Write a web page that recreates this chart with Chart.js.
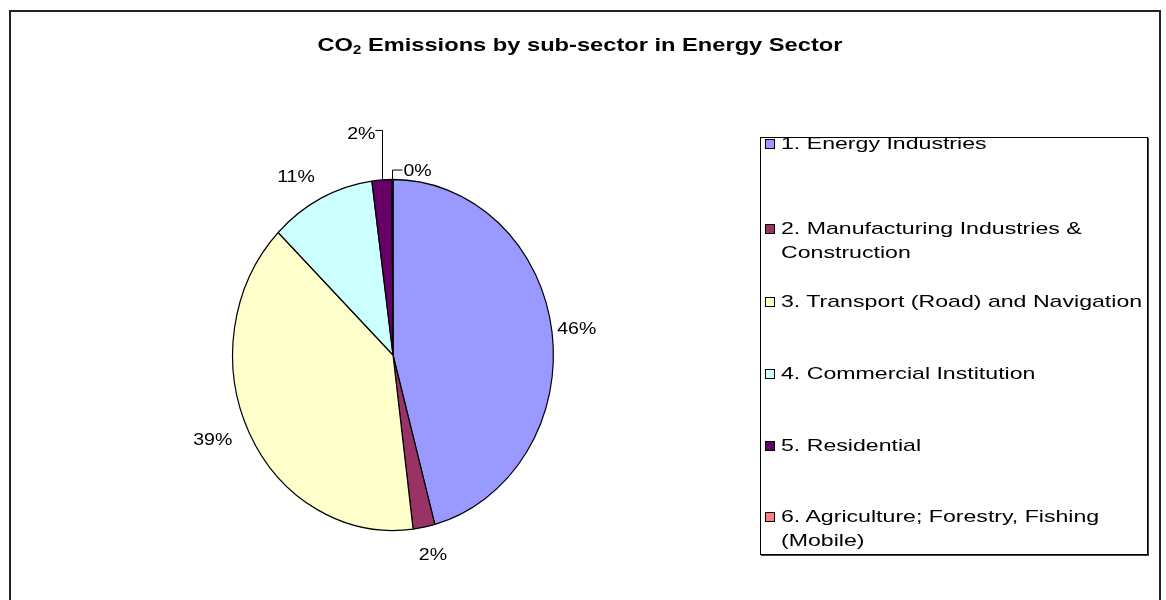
<!DOCTYPE html>
<html>
<head>
<meta charset="utf-8">
<script src="https://cdn.jsdelivr.net/npm/chart.js@4.4.0/dist/chart.umd.min.js"></script>
<style>
  html, body { margin:0; padding:0; background:#fff; }
  body { width:1166px; height:600px; position:relative; overflow:hidden; font-family:"Liberation Sans", Arial, sans-serif; }
  #frame { position:absolute; left:9px; top:10px; width:1152px; height:600px; border:2px solid #222; box-sizing:border-box; }
  #wrap { position:absolute; left:0; top:0; width:1166px; height:600px; }
  #title { position:absolute; left:580px; top:34px; font-weight:bold; font-size:19px; color:#000; white-space:nowrap; transform:translateX(-50%) scaleX(1.245); }
  #title sub { font-size:12px; vertical-align:-3px; line-height:0; }
  #legend { position:absolute; left:760px; top:137px; width:388px; height:418px; border:1px solid #000; box-shadow:1px 1px 0 #444; box-sizing:border-box; }
  .li { position:absolute; left:4px; font-size:17px; line-height:24px; color:#000; }
  .sw { position:absolute; left:0; top:7px; width:8px; height:8px; border:1px solid #000; }
  .tx { position:absolute; left:16px; top:0; white-space:nowrap; transform:scaleX(1.36); transform-origin:0 0; }
</style>
</head>
<body>
<div id="frame"></div>
<div id="wrap"><canvas id="c" width="1166" height="600"></canvas></div>
<div id="title">CO<sub>2</sub> Emissions by sub-sector in Energy Sector</div>
<div id="legend"></div>
<script>
const categories = [
  "1. Energy Industries",
  "2. Manufacturing Industries & Construction",
  "3. Transport (Road) and Navigation",
  "4. Commercial Institution",
  "5. Residential",
  "6. Agriculture; Forestry, Fishing (Mobile)"
];
const legendLines = [
  ["1. Energy Industries"],
  ["2. Manufacturing Industries &", "Construction"],
  ["3. Transport (Road) and Navigation"],
  ["4. Commercial Institution"],
  ["5. Residential"],
  ["6. Agriculture; Forestry, Fishing", "(Mobile)"]
];
const shares = [45.8, 2.2, 39.3, 10.6, 2.0, 0.1];
const pctLabels = ["46%", "2%", "39%", "11%", "2%", "0%"];
const colors = ["#9999FF", "#993366", "#FFFFCC", "#CCFFFF", "#660066", "#FF8080"];

// legend (HTML, built from arrays)
const lg = document.getElementById('legend');
const itemY = [-6, 79, 152, 224, 296, 367];
legendLines.forEach((lines, i) => {
  const d = document.createElement('div');
  d.className = 'li';
  d.style.top = itemY[i] + 'px';
  const sw = document.createElement('div');
  sw.className = 'sw';
  sw.style.background = colors[i];
  d.appendChild(sw);
  const t = document.createElement('div');
  t.className = 'tx';
  t.innerHTML = lines.map(s => s.replace(/&/g, '&amp;')).join('<br>');
  d.appendChild(t);
  lg.appendChild(d);
});

const SY = 1.094; // vertical stretch of the pie (ellipse)
const gapX = [25, 46, 41, 56, 0, 0];
const gapY = [20, 29, 16, 23, 0, 0];

const ellipsePlugin = {
  id: 'ellipse',
  beforeDatasetsDraw(chart) {
    const a = chart.getDatasetMeta(0).data[0];
    const ctx = chart.ctx;
    ctx.save();
    ctx.translate(a.x, a.y);
    ctx.scale(1, SY);
    ctx.translate(-a.x, -a.y);
  },
  afterDatasetsDraw(chart) {
    const ctx = chart.ctx;
    ctx.restore();
    const meta = chart.getDatasetMeta(0);
    ctx.save();
    ctx.font = '17px "Liberation Sans", Arial, sans-serif';
    ctx.fillStyle = '#000';
    ctx.strokeStyle = '#000';
    ctx.lineWidth = 1;
    ctx.textBaseline = 'middle';
    const txt = (s, x, y, align) => {
      const w = ctx.measureText(s).width * 1.15;
      let left = x;
      if (align === 'center') left = x - w / 2;
      else if (align === 'right') left = x - w;
      ctx.save();
      ctx.translate(left, y);
      ctx.scale(1.15, 1);
      ctx.textAlign = 'left';
      ctx.fillText(s, 0, 0);
      ctx.restore();
    };
    meta.data.forEach((arc, i) => {
      const p = arc.getProps(['x','y','startAngle','endAngle','outerRadius'], true);
      const mid = (p.startAngle + p.endAngle) / 2;
      const cx = p.x, cy = p.y, r = p.outerRadius;
      const dx = Math.cos(mid), dy = Math.sin(mid);
      const ex = cx + dx * r, ey = cy + dy * r * SY;
      if (i === 4) {
        const lx = Math.round(ex) + 0.5;
        ctx.beginPath();
        ctx.moveTo(lx, ey);
        ctx.lineTo(lx, ey - 49.5);
        ctx.lineTo(lx - 7, ey - 49.5);
        ctx.stroke();
        txt(pctLabels[i], lx - 7, ey - 46, 'right');
      } else if (i === 5) {
        const lx = Math.round(ex) + 0.5;
        ctx.beginPath();
        ctx.moveTo(lx, ey);
        ctx.lineTo(lx, ey - 9.5);
        ctx.lineTo(lx + 10, ey - 9.5);
        ctx.stroke();
        txt(pctLabels[i], lx + 11, ey - 8, 'left');
      } else {
        const lx = cx + dx * (r + gapX[i]);
        const ly = cy + dy * (r * SY + gapY[i]);
        txt(pctLabels[i], lx, ly, 'center');
      }
    });
    ctx.restore();
  }
};

new Chart(document.getElementById('c'), {
  type: 'pie',
  data: {
    labels: categories,
    datasets: [{
      data: shares,
      backgroundColor: colors,
      borderColor: '#000',
      borderWidth: 1.2,
      clip: false
    }]
  },
  options: {
    responsive: false,
    animation: false,
    events: [],
    layout: { padding: { left: 232, right: 612, top: 194, bottom: 84 } },
    plugins: {
      legend: { display: false },
      title: { display: false },
      tooltip: { enabled: false }
    }
  },
  plugins: [ellipsePlugin]
});
</script>
</body>
</html>
